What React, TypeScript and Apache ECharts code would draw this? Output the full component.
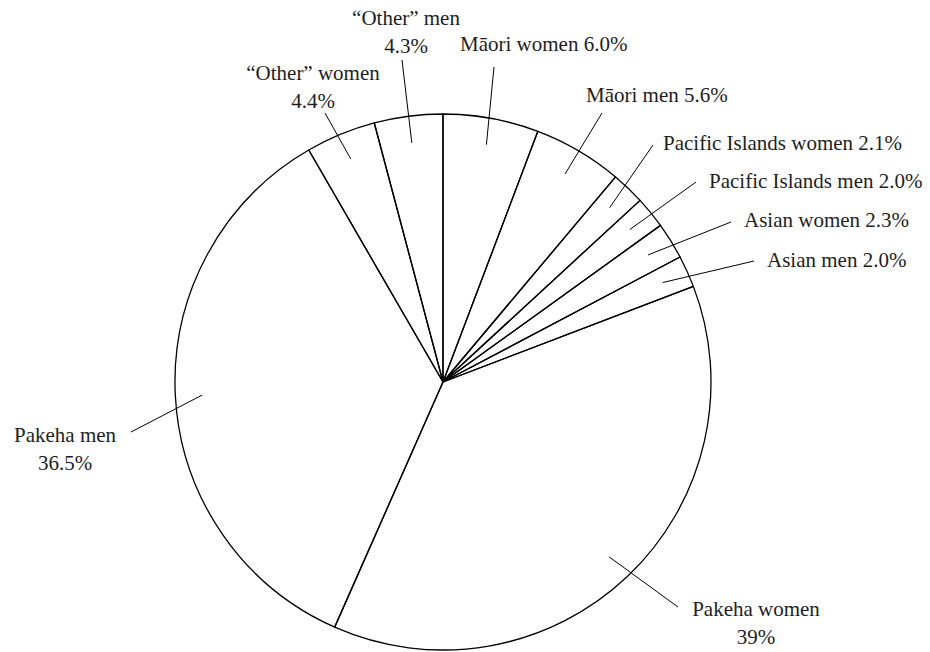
import React, { useEffect, useRef } from 'react';
import * as echarts from 'echarts';

// ---- Data ----
const CATEGORIES = [
  'Māori women',
  'Māori men',
  'Pacific Islands women',
  'Pacific Islands men',
  'Asian women',
  'Asian men',
  'Pakeha women',
  'Pakeha men',
  '“Other” women',
  '“Other” men',
];
const VALUES = [6.0, 5.6, 2.1, 2.0, 2.3, 2.0, 39, 36.5, 4.4, 4.3];
const VALUE_LABELS = ['6.0%', '5.6%', '2.1%', '2.0%', '2.3%', '2.0%', '39%', '36.5%', '4.4%', '4.3%'];
const TWO_LINE = [false, false, false, false, false, false, true, true, true, true];

// ---- Layout (pixels) ----
const CX = 443;
const CY = 382;
const R = 268;
const LINE_START_FRACTION = 0.9;
// label anchor: x, y (vertical middle), alignment
const LABEL_POS: [number, number, 'left' | 'center'][] = [
  [460, 44, 'left'],
  [586, 95, 'left'],
  [663, 143, 'left'],
  [709, 181, 'left'],
  [744, 220, 'left'],
  [767, 260, 'left'],
  [756, 623, 'center'],
  [65, 449, 'center'],
  [313, 87, 'center'],
  [406, 32, 'center'],
];
// end of each leader line (near its label)
const LINE_END: [number, number][] = [
  [494, 67],
  [602, 113],
  [653, 145],
  [696, 182],
  [731, 222],
  [754, 261],
  [678, 607],
  [131, 432],
  [325, 113],
  [402, 60],
];

const FONT = '"Liberation Serif", "Times New Roman", serif';

export default function App() {
  const ref = useRef<HTMLDivElement>(null);

  useEffect(() => {
    document.body.style.margin = '0';
    if (!ref.current) return;
    const chart = echarts.init(ref.current, null, { renderer: 'svg' });

    const total = VALUES.reduce((a, b) => a + b, 0);
    const midAngles: number[] = [];
    let cum = 0;
    VALUES.forEach((v) => {
      midAngles.push(((cum + v / 2) / total) * 360);
      cum += v;
    });

    chart.setOption({
      animation: false,
      backgroundColor: '#ffffff',
      series: [
        {
          type: 'pie',
          center: [CX, CY],
          radius: R,
          startAngle: 90,
          clockwise: true,
          avoidLabelOverlap: false,
          silent: true,
          emphasis: { disabled: true },
          itemStyle: {
            color: 'rgba(255,255,255,0)',
            borderColor: '#000000',
            borderWidth: 1.3,
          },
          label: {
            show: true,
            position: 'outside',
            fontFamily: FONT,
            fontSize: 21,
            lineHeight: 28,
            color: '#1e1e1e',
            formatter: (p: any) =>
              CATEGORIES[p.dataIndex] + (TWO_LINE[p.dataIndex] ? '\n' : ' ') + VALUE_LABELS[p.dataIndex],
          },
          labelLine: {
            show: true,
            smooth: false,
            length: 10,
            length2: 10,
            lineStyle: { color: '#000000', width: 1 },
          },
          labelLayout: (params: any) => {
            const i = params.dataIndex;
            const [lx, ly, align] = LABEL_POS[i];
            const a = (midAngles[i] * Math.PI) / 180;
            const r = R * LINE_START_FRACTION;
            const start = [CX + r * Math.sin(a), CY - r * Math.cos(a)];
            const end = LINE_END[i];
            return {
              x: lx,
              y: ly,
              align,
              verticalAlign: 'middle',
              labelLinePoints: [start, end, end],
            };
          },
          data: CATEGORIES.map((name, i) => ({ name, value: VALUES[i] })),
        },
      ],
    });

    return () => {
      chart.dispose();
    };
  }, []);

  return <div ref={ref} style={{ width: 930, height: 652 }} />;
}
